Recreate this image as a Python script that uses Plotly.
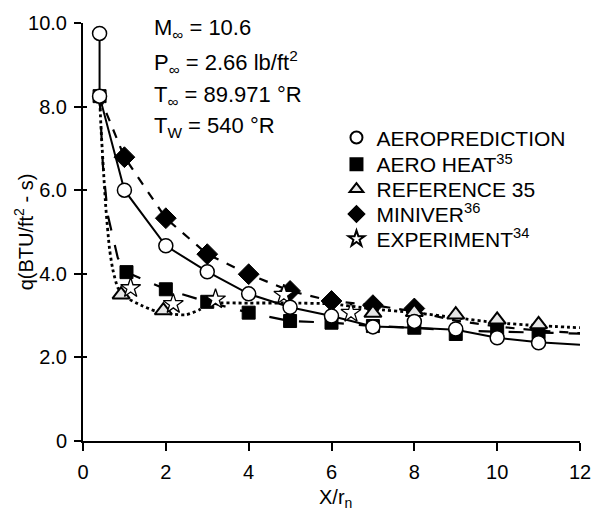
import plotly.graph_objects as go

# ---------------- data ----------------
# AEROPREDICTION (open circles, solid curve)
aero_x = [0.4, 0.4, 1, 2, 3, 4, 5, 6, 7, 8, 9, 10, 11]
aero_y = [9.75, 8.25, 6.0, 4.67, 4.05, 3.52, 3.2, 2.99, 2.73, 2.86, 2.68, 2.47, 2.35]
aero_curve_x = [0.4, 0.4, 1, 2, 3, 4, 5, 6, 7, 8, 9, 10, 11, 12]
aero_curve_y = [9.75, 8.25, 6.0, 4.67, 4.05, 3.52, 3.2, 2.99, 2.74, 2.71, 2.66, 2.47, 2.36, 2.3]

# AERO HEAT 35 (filled squares, long-dash curve)
ah_x = [0.4, 1.05, 2, 3, 4, 5, 6, 7, 8, 9, 10, 11]
ah_y = [8.25, 4.04, 3.63, 3.33, 3.07, 2.87, 2.83, 2.75, 2.71, 2.56, 2.71, 2.6]
ah_curve_x = [0.4, 0.48, 0.6, 0.84, 1.05, 2, 3, 4, 5, 6, 7, 8, 9, 10, 11, 12]
ah_curve_y = [8.25, 6.6, 5.4, 4.38, 4.04, 3.63, 3.33, 3.07, 2.87, 2.83, 2.75, 2.71, 2.64, 2.62, 2.6, 2.57]

# REFERENCE 35 (open triangles, dotted curve)
ref_x = [0.92, 1.94, 7, 8, 9, 10, 11]
ref_y = [3.5, 3.12, 3.06, 3.08, 3.02, 2.9, 2.79]
ref_curve_x = [0.4, 0.44, 0.55, 0.64, 0.72, 0.85, 1.07, 1.4, 1.74, 2.13, 2.49, 2.81, 3.04,
               4, 5, 6, 7, 8, 9, 10, 11, 12]
ref_curve_y = [8.25, 7.4, 5.6, 4.6, 4.1, 3.65, 3.42, 3.25, 3.11, 3.04, 3.02, 3.14, 3.28,
               3.3, 3.3, 3.28, 3.16, 3.07, 2.95, 2.83, 2.76, 2.71]

# MINIVER 36 (filled diamonds, dashed curve)
mv_x = [1, 2, 3, 4, 5, 6, 7, 8]
mv_y = [6.79, 5.33, 4.47, 3.99, 3.59, 3.35, 3.25, 3.17]
mv_curve_x = [0.4, 1, 2, 3, 4, 5, 6, 7, 8, 9, 10, 11, 12]
mv_curve_y = [8.25, 6.79, 5.33, 4.47, 3.99, 3.59, 3.35, 3.25, 3.1, 2.88, 2.74, 2.64, 2.58]

# EXPERIMENT 34 (open stars)
ex_x = [1.15, 2.18, 3.2, 4.85, 6.47]
ex_y = [3.66, 3.28, 3.39, 3.5, 3.07]

x_ticks = [0, 2, 4, 6, 8, 10, 12]
x_tick_labels = ["0", "2", "4", "6", "8", "10", "12"]
y_ticks = [0, 2, 4, 6, 8, 10]
y_tick_labels = ["0", "2.0", "4.0", "6.0", "8.0", "10.0"]

conditions = [
    "M<sub>∞</sub> = 10.6",
    "P<sub>∞</sub> = 2.66 lb/ft<sup>2</sup>",
    "T<sub>∞</sub> = 89.971 °R",
    "T<sub>W</sub> = 540 °R",
]

FONT = "Liberation Sans, Arial, Helvetica, sans-serif"
BLACK = "#000000"

fig = go.Figure()

# ---------- curves ----------
curve_specs = [
    (ah_curve_x, ah_curve_y, "longdash", 2.2, "linear"),
    (mv_curve_x, mv_curve_y, "dash", 2.2, "linear"),
    (ref_curve_x, ref_curve_y, "dot", 2.8, "spline"),
    (aero_curve_x, aero_curve_y, "solid", 2.0, "linear"),
]
for cx, cy, dash, w, shape in curve_specs:
    fig.add_trace(go.Scatter(
        x=cx, y=cy, mode="lines", showlegend=False, hoverinfo="skip",
        line=dict(color=BLACK, width=w, dash=dash, shape=shape,
                  **({"smoothing": 0.6} if shape == "spline" else {})),
    ))

# ---------- markers (each in its own legend row) ----------
MS = 14
fig.add_trace(go.Scatter(
    x=ah_x, y=ah_y, mode="markers", name="AERO HEAT<sup>35</sup>", legend="legend2",
    marker=dict(symbol="square", size=MS - 1, color=BLACK, line=dict(color=BLACK, width=1)),
    cliponaxis=False))
fig.add_trace(go.Scatter(
    x=mv_x, y=mv_y, mode="markers", name="MINIVER<sup>36</sup>", legend="legend4",
    marker=dict(symbol="diamond", size=MS + 2, color=BLACK, line=dict(color=BLACK, width=1)),
    cliponaxis=False))
fig.add_trace(go.Scatter(
    x=ref_x, y=ref_y, mode="markers", name="REFERENCE 35", legend="legend3",
    marker=dict(symbol="triangle-up", size=MS + 1, color="#e6e6e6", line=dict(color=BLACK, width=2)),
    cliponaxis=False))
fig.add_trace(go.Scatter(
    x=ex_x, y=ex_y, mode="markers", name="EXPERIMENT<sup>34</sup>", legend="legend5",
    marker=dict(symbol="star", size=MS + 1, color="white", line=dict(color=BLACK, width=1.3)),
    cliponaxis=False))
fig.add_trace(go.Scatter(
    x=aero_x, y=aero_y, mode="markers", name="AEROPREDICTION", legend="legend",
    marker=dict(symbol="circle", size=MS, color="white", line=dict(color=BLACK, width=1.5)),
    cliponaxis=False))

# overlay axes to make the y ticks cross the axis line
fig.add_trace(go.Scatter(x=[None], y=[None], xaxis="x2", yaxis="y2", showlegend=False, hoverinfo="skip"))

axis_common = dict(showgrid=False, zeroline=False, color=BLACK,
                   tickfont=dict(family=FONT, size=20, color=BLACK))


def legend_at(ytop):
    return dict(x=0.51, y=ytop, xanchor="left", yanchor="top",
                font=dict(family=FONT, size=21, color=BLACK),
                bgcolor="rgba(0,0,0,0)", borderwidth=0, itemsizing="constant",
                itemwidth=30, tracegroupgap=0)


fig.update_layout(
    width=603, height=512,
    margin=dict(l=83, r=13, t=20, b=71),
    paper_bgcolor="white", plot_bgcolor="white",
    font=dict(family=FONT, color=BLACK),
    xaxis=dict(range=[0, 12], tickvals=x_ticks, ticktext=x_tick_labels,
               ticks="outside", ticklen=8, tickwidth=2, showline=True, linewidth=2,
               linecolor=BLACK, mirror=False, ticklabelstandoff=4, **axis_common),
    yaxis=dict(range=[0, 10], tickvals=y_ticks, ticktext=y_tick_labels,
               ticks="outside", ticklen=7, tickwidth=2, showline=True, linewidth=2,
               linecolor=BLACK, mirror=False, ticklabelstandoff=3, **axis_common),
    xaxis2=dict(range=[0, 12], overlaying="x", showticklabels=False, showline=False,
                ticks="", showgrid=False, zeroline=False),
    yaxis2=dict(range=[0, 10], overlaying="y", tickvals=y_ticks, showticklabels=False,
                showline=False, ticks="inside", ticklen=4, tickwidth=2, tickcolor=BLACK,
                showgrid=False, zeroline=False),
    legend=legend_at(0.7743),
    legend2=legend_at(0.7102),
    legend3=legend_at(0.6508),
    legend4=legend_at(0.5914),
    legend5=legend_at(0.5320),
    showlegend=True,
)

# y-axis title
fig.add_annotation(text="q(BTU/ft<sup>2</sup> - s)", xref="paper", yref="paper",
                   x=-0.12, y=0.5, textangle=-90, showarrow=False,
                   xanchor="center", yanchor="middle",
                   font=dict(family=FONT, size=20, color=BLACK))
# x-axis title
fig.add_annotation(text="X/r<sub>n</sub>", xref="paper", yref="paper",
                   x=0.508, y=-0.138, showarrow=False, xanchor="center", yanchor="middle",
                   font=dict(family=FONT, size=20, color=BLACK))

# flow conditions
cond_y = [0.985, 0.905, 0.826, 0.752]
for txt, yy in zip(conditions, cond_y):
    fig.add_annotation(text=txt, xref="paper", yref="paper", x=0.138, y=yy,
                       xanchor="left", yanchor="middle", showarrow=False,
                       font=dict(family=FONT, size=22, color=BLACK))

fig.write_html("out.html")
